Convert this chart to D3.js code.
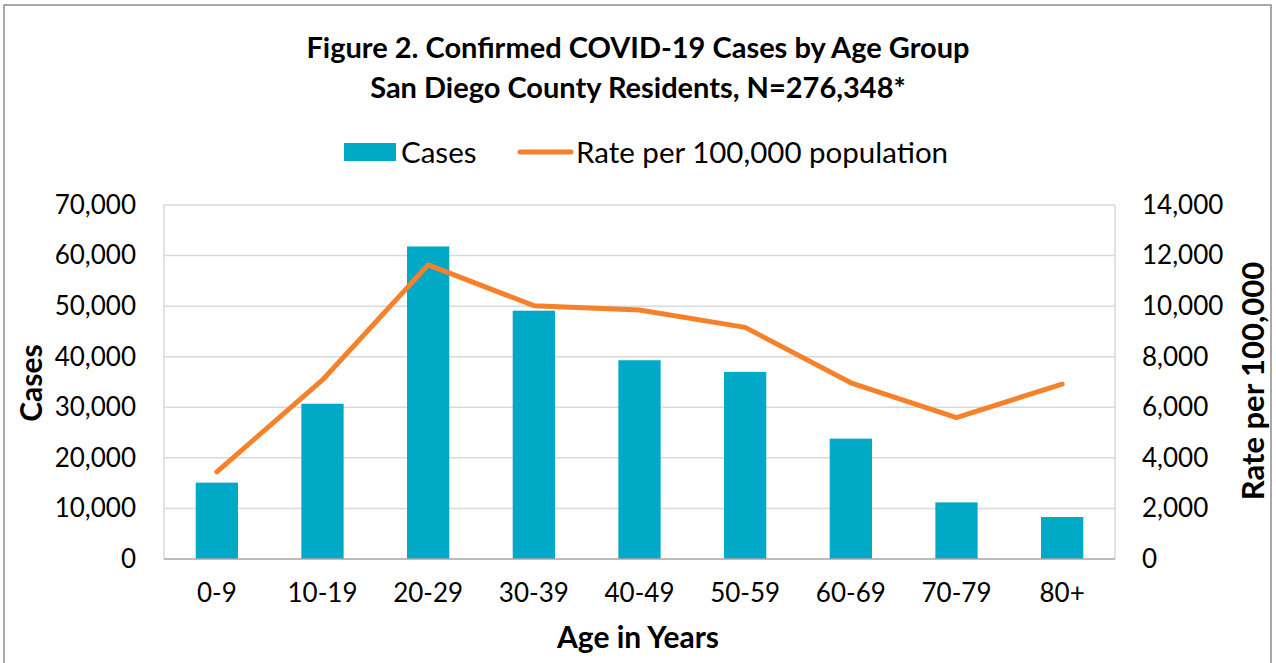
<!DOCTYPE html>
<html>
<head>
	<meta charset="UTF-8">
	<title>Confirmed COVID-19 Cases by Age Group</title>
	<script src="https://d3js.org/d3.v7.min.js"></script>
	<style>
		body { margin: 0; background: #fff; }
		svg text { font-family: Lato, "Open Sans", sans-serif; fill: #000; }
	</style>
</head>
<body>
	<svg width="1276" height="663"></svg>
	<script>
		// data
		var ageGroups = ["0-9", "10-19", "20-29", "30-39", "40-49", "50-59", "60-69", "70-79", "80+"];
		var cases = [15100, 30700, 61800, 49100, 39300, 37000, 23800, 11200, 8300];
		var ratePer100k = [3450, 7080, 11630, 10020, 9850, 9160, 6970, 5590, 6920];
		var caseTicks = [0, 10000, 20000, 30000, 40000, 50000, 60000, 70000];
		var rateTicks = [0, 2000, 4000, 6000, 8000, 10000, 12000, 14000];

		var barColor = "#00a9c5";
		var lineColor = "#f5822a";

		var svg = d3.select("svg");
		// plot area (don't use "top" as a global, it's window.top)
		var plotL = 164, plotR = 1115, plotT = 205, plotB = 559;

		// outer frame
		svg.append("rect")
			.attr("x", 4).attr("y", 5)
			.attr("width", 1267).attr("height", 670)
			.attr("fill", "none")
			.attr("stroke", "#8c8c8c")
			.attr("stroke-width", 1.5);

		var x = d3.scaleBand().domain(ageGroups).range([plotL, plotR]).paddingInner(0.6).paddingOuter(0.3);
		var yCases = d3.scaleLinear().domain([0, 70000]).range([plotB, plotT]);
		var yRate = d3.scaleLinear().domain([0, 14000]).range([plotB, plotT]);
		var fmt = d3.format(",");

		// gridlines
		svg.append("g")
			.selectAll("line")
			.data(caseTicks.slice(1))
			.enter()
			.append("line")
			.attr("x1", plotL).attr("x2", plotR)
			.attr("y1", d => yCases(d)).attr("y2", d => yCases(d))
			.attr("stroke", "#d9d9d9")
			.attr("stroke-width", 1.5);

		// plot area sides
		svg.append("line").attr("x1", plotL).attr("x2", plotL).attr("y1", plotT).attr("y2", plotB)
			.attr("stroke", "#d9d9d9").attr("stroke-width", 1.5);
		svg.append("line").attr("x1", plotR).attr("x2", plotR).attr("y1", plotT).attr("y2", plotB)
			.attr("stroke", "#d9d9d9").attr("stroke-width", 1.5);

		// bars
		svg.append("g")
			.selectAll("rect")
			.data(cases)
			.enter()
			.append("rect")
			.attr("x", (d, i) => x(ageGroups[i]))
			.attr("width", x.bandwidth())
			.attr("y", d => yCases(d))
			.attr("height", d => plotB - yCases(d))
			.attr("fill", barColor);

		// baseline
		svg.append("line").attr("x1", plotL).attr("x2", plotR).attr("y1", plotB).attr("y2", plotB)
			.attr("stroke", "#a6a6a6").attr("stroke-width", 1.5);

		// rate line
		var line = d3.line()
			.x((d, i) => x(ageGroups[i]) + x.bandwidth() / 2)
			.y(d => yRate(d));
		svg.append("path")
			.datum(ratePer100k)
			.attr("d", line)
			.attr("fill", "none")
			.attr("stroke", lineColor)
			.attr("stroke-width", 5)
			.attr("stroke-linecap", "round")
			.attr("stroke-linejoin", "round");

		// left axis
		var leftAxis = d3.axisLeft(yCases).tickValues(caseTicks).tickFormat(fmt).tickSize(0).tickPadding(0);
		var gl = svg.append("g").attr("transform", "translate(136,0)").call(leftAxis);
		gl.select(".domain").remove();
		gl.selectAll("text").attr("font-size", 26).attr("font-family", null);

		// right axis
		var rightAxis = d3.axisRight(yRate).tickValues(rateTicks).tickFormat(fmt).tickSize(0).tickPadding(0);
		var gr = svg.append("g").attr("transform", "translate(1142,0)").call(rightAxis);
		gr.select(".domain").remove();
		gr.selectAll("text").attr("font-size", 26).attr("font-family", null);

		// x axis
		var bottomAxis = d3.axisBottom(x).tickSize(0).tickPadding(0);
		var gx = svg.append("g").attr("transform", "translate(0,584)").call(bottomAxis);
		gx.select(".domain").remove();
		gx.selectAll("text").attr("font-size", 26).attr("font-family", null);

		// titles
		svg.append("text").attr("x", 638).attr("y", 58).attr("text-anchor", "middle")
			.attr("font-size", 29).attr("font-weight", "bold")
			.text("Figure 2. Confirmed COVID-19 Cases by Age Group");
		svg.append("text").attr("x", 638).attr("y", 98).attr("text-anchor", "middle")
			.attr("font-size", 29).attr("font-weight", "bold")
			.text("San Diego County Residents, N=276,348*");

		svg.append("text").attr("x", 638).attr("y", 648).attr("text-anchor", "middle")
			.attr("font-size", 30).attr("font-weight", "bold")
			.text("Age in Years");

		svg.append("text").attr("transform", "translate(42,383) rotate(-90)").attr("text-anchor", "middle")
			.attr("font-size", 30).attr("font-weight", "bold")
			.text("Cases");
		svg.append("text").attr("transform", "translate(1264,381) rotate(-90)").attr("text-anchor", "middle")
			.attr("font-size", 31).attr("font-weight", "bold")
			.text("Rate per 100,000");

		// legend
		var legend = svg.append("g");
		legend.append("rect").attr("x", 344).attr("y", 143).attr("width", 52).attr("height", 18).attr("fill", barColor);
		legend.append("text").attr("x", 401).attr("y", 163).attr("font-size", 29.5).text("Cases");
		legend.append("line").attr("x1", 520).attr("x2", 571).attr("y1", 152).attr("y2", 152)
			.attr("stroke", lineColor).attr("stroke-width", 5).attr("stroke-linecap", "round");
		legend.append("text").attr("x", 576).attr("y", 163).attr("font-size", 29.5).text("Rate per 100,000 population");
	</script>
</body>
</html>
